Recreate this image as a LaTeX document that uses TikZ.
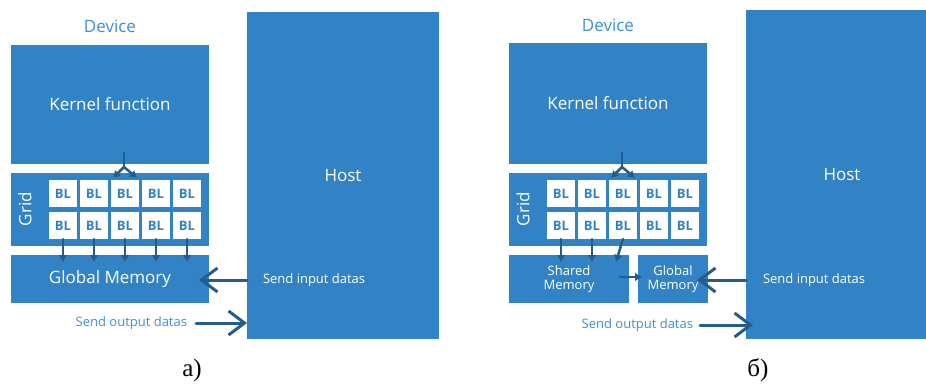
\documentclass[tikz,border=0pt]{standalone}
\usepackage{fontspec}
\setmainfont{Open Sans}
\newfontfamily\capfont{Liberation Serif}
\usetikzlibrary{arrows.meta}
\definecolor{boxblue}{HTML}{3283C6}
\definecolor{lightblue}{HTML}{3C8FDA}
\definecolor{darkblue}{HTML}{245C8E}

\begin{document}
\begin{tikzpicture}[
	x=1pt, y=-1pt,
	every node/.style={inner sep=0pt, outer sep=0pt},
	panel/.style={fill=boxblue, text=white, anchor=north west, font=\fontsize{17}{20}\selectfont},
	smallpanel/.style={panel, align=center, font=\fontsize{13}{14.5}\selectfont},
	cell/.style={fill=white, text=boxblue, minimum width=28pt, minimum height=27pt, font=\fontsize{13}{15}\selectfont\bfseries},
	title/.style={text=lightblue, font=\fontsize{17}{20}\selectfont},
	sendtxt/.style={font=\fontsize{13}{15}\selectfont},
	flow/.style={draw=darkblue, line width=2.5pt, -{Latex[length=7pt,width=9pt]}},
	bigflow/.style={draw=darkblue, line width=3pt, -{Straight Barb[length=16pt,width=24pt]}},
	line cap=round,
	line join=round
	]
	
	\useasboundingbox (0,0) rectangle (926,385);
	
	% Panel a
	\begin{scope}
		\node[title] (a-device) at (110,26) {Device};
		\node[panel, minimum width=198pt, minimum height=119pt] (a-kernel) at (11,45) {Kernel function};
		\node[panel, minimum width=198pt, minimum height=73pt] (a-grid) at (11,173) {};
		\node[rotate=90, text=white, font=\fontsize{17}{20}\selectfont] (a-gridlbl) at (25,209) {Grid};
		\foreach \i in {0,...,4} {
			\node[cell] (a-top\i) at (63+31*\i,193.5) {BL};
			\node[cell] (a-bot\i) at (63+31*\i,225.5) {BL};
		}
		\node[panel, minimum width=198pt, minimum height=48pt] (a-global) at (11,255) {Global Memory};
		\node[panel, minimum width=192pt, minimum height=327pt] (a-host) at (247,12) {Host};
		
		\coordinate (a-launch) at (124,153);
		\coordinate (a-fork) at (124,167);
		\draw[darkblue, line width=2.5pt] (a-launch) -- (a-fork);
		\draw[flow] (a-fork) -- ([xshift=2pt,yshift=2pt]a-top2.north west);
		\draw[flow] (a-fork) -- ([xshift=-2pt,yshift=2pt]a-top2.north east);
		\foreach \i in {0,...,4}
		\draw[flow] (a-bot\i.south) -- ++(0,23);
		
		\coordinate (a-in) at (199,280);
		\draw[bigflow] (a-host.west |- a-in) -- (a-in);
		\node[sendtxt, anchor=west, text=white] (a-intxt) at (263,280) {Send input datas};
		\node[sendtxt, anchor=east, text=lightblue] (a-outtxt) at (187,323) {Send output datas};
		\draw[bigflow] ([xshift=9pt]a-outtxt.east) -- (a-host.west |- a-outtxt);
		
		\node[font=\capfont\fontsize{25}{27}\selectfont] (a-cap) at (192,370) {a)};
	\end{scope}
	
	% Panel b
	\begin{scope}[shift={(498,0)}]
		\node[title] (b-device) at (110,25) {Device};
		\node[panel, minimum width=198pt, minimum height=121pt] (b-kernel) at (11,43) {Kernel function};
		\node[panel, minimum width=198pt, minimum height=73pt] (b-grid) at (11,173) {};
		\node[rotate=90, text=white, font=\fontsize{17}{20}\selectfont] (b-gridlbl) at (25,209) {Grid};
		\foreach \i in {0,...,4} {
			\node[cell] (b-top\i) at (63+31*\i,193.5) {BL};
			\node[cell] (b-bot\i) at (63+31*\i,225.5) {BL};
		}
		\node[smallpanel, minimum width=120pt, minimum height=48pt] (b-shared) at (11,255) {Shared\\Memory};
		\node[smallpanel, minimum width=70pt, minimum height=48pt] (b-global) at (140,255) {Global\\Memory};
		\node[panel, minimum width=192pt, minimum height=329pt] (b-host) at (248,10) {Host};
		
		\coordinate (b-launch) at (124,153);
		\coordinate (b-fork) at (124,167);
		\draw[darkblue, line width=2.5pt] (b-launch) -- (b-fork);
		\draw[flow] (b-fork) -- ([xshift=2pt,yshift=2pt]b-top2.north west);
		\draw[flow] (b-fork) -- ([xshift=-2pt,yshift=2pt]b-top2.north east);
		\draw[flow] (b-bot0.south) -- ++(0,23);
		\draw[flow] (b-bot1.south) -- ++(0,23);
		\draw[flow] (b-bot2.south) -- ++(-7,23);
		
		\coordinate (b-share) at (122,277);
		\draw[flow] (b-share) -- ([xshift=4pt]b-global.west |- b-share);
		
		\coordinate (b-in) at (199,280);
		\draw[bigflow] (b-host.west |- b-in) -- (b-in);
		\node[sendtxt, anchor=west, text=white] (b-intxt) at (265,280) {Send input datas};
		\node[sendtxt, anchor=east, text=lightblue] (b-outtxt) at (195,325) {Send output datas};
		\draw[bigflow] ([xshift=7pt]b-outtxt.east) -- ([xshift=7pt]b-host.west |- b-outtxt);
		
		\node[font=\capfont\fontsize{25}{27}\selectfont] (b-cap) at (260,370) {б)};
	\end{scope}
	
\end{tikzpicture}
\end{document}
